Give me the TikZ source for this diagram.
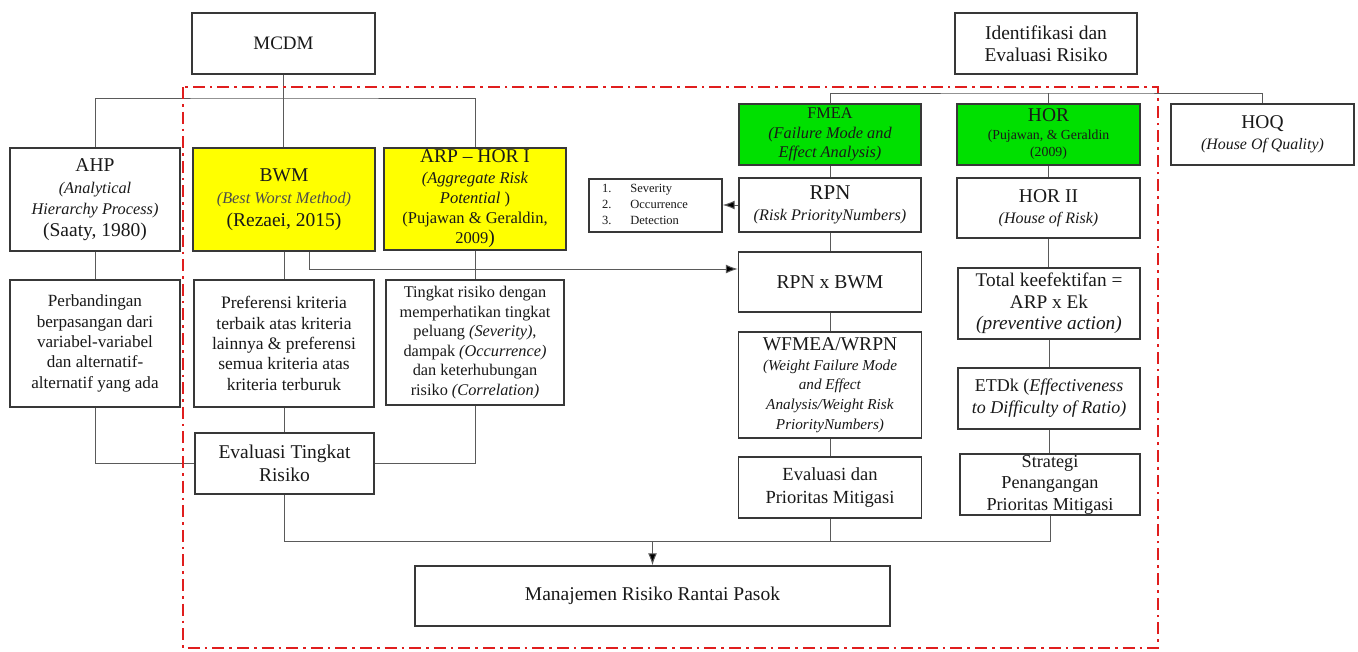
\documentclass[tikz,border=0pt]{standalone}
\usepackage{fontspec}
\setmainfont{Liberation Serif}
\usetikzlibrary{arrows.meta}
\definecolor{boxline}{HTML}{383838}
\definecolor{conn}{HTML}{5A5A5A}
\definecolor{ylw}{HTML}{FFFF00}
\definecolor{grn}{HTML}{00E000}
\definecolor{framered}{HTML}{E01E1E}
\newcommand{\fs}[2]{\fontsize{#1}{#2}\selectfont}
\newcommand{\tbig}[1]{{\fontsize{19.5}{20}\selectfont #1}}
\newcommand{\tbigg}[1]{{\fontsize{21}{20}\selectfont #1}}
\tikzset{
  bx/.style={draw=boxline, line width=1.4pt, align=center, inner sep=0pt, text=black!90, fill=white},
  ybx/.style={bx, fill=ylw},
  gbx/.style={bx, fill=grn},
  ln/.style={draw=conn, line width=1pt},
  arr/.style={ln, -{Latex[length=12pt,width=9pt,fill=black]}},
  redframe/.style={draw=framered, line width=2.6pt, dash pattern=on 12pt off 5pt on 2.6pt off 5pt}
}
\begin{document}
\begin{tikzpicture}[x=1pt,y=-1pt]
\fill[white] (0,0) rectangle (1358,651);
\useasboundingbox (0,0) rectangle (1358,651);

% top boxes
\node[bx, minimum width=183pt, minimum height=61pt, font=\fs{19}{22}] (mcdm) at (283.5,43.5) {MCDM};
\node[bx, minimum width=182pt, minimum height=61pt, font=\fs{19.5}{22}] (ident) at (1046,43.5) {Identifikasi dan\\Evaluasi Risiko};

% left methods
\node[bx, minimum width=170pt, minimum height=103pt, font=\fs{16.3}{21.5}] (ahp) at (95,199.5)
  {\tbig{AHP}\\\textit{(Analytical}\\\textit{Hierarchy Process)}\\\tbig{(Saaty, 1980)}};
\node[ybx, minimum width=182pt, minimum height=103pt, font=\fs{16.3}{22.5}] (bwm) at (284,199.5)
  {\tbig{BWM}\\\textcolor{black!70}{\textit{(Best Worst Method)}}\\\tbig{(Rezaei, 2015)}};
\node[ybx, minimum width=182pt, minimum height=102pt, font=\fs{16.5}{20.3}] (arp) at (475,199)
  {\tbig{ARP -- HOR I}\\\textit{(Aggregate Risk}\\\textit{Potential} )\\(Pujawan \& Geraldin,\\2009\tbig{)}};

\node[bx, minimum width=170pt, minimum height=127pt, font=\fs{17.1}{20.3}] (perb) at (95,343.5)
  {Perbandingan\\berpasangan dari\\variabel-variabel\\dan alternatif-\\alternatif yang ada};
\node[bx, minimum width=180pt, minimum height=127pt, font=\fs{17.5}{20.3}] (pref) at (284,343.5)
  {Preferensi kriteria\\terbaik atas kriteria\\lainnya \& preferensi\\semua kriteria atas\\kriteria terburuk};
\node[bx, minimum width=178pt, minimum height=125pt, font=\fs{16.3}{19.5}] (ting) at (475,342.5)
  {Tingkat risiko dengan\\memperhatikan tingkat\\peluang \textit{(Severity)},\\dampak \textit{(Occurrence)}\\dan keterhubungan\\risiko \textit{(Correlation)}};
\node[bx, minimum width=179pt, minimum height=61pt, font=\fs{19.5}{23}] (evalt) at (284.5,463.5)
  {Evaluasi Tingkat\\Risiko};

% FMEA column
\node[gbx, minimum width=182pt, minimum height=61pt, font=\fs{16.3}{19.5}] (fmea) at (830,134.5)
  {FMEA\\\textit{(Failure Mode and}\\\textit{Effect Analysis)}};
\node[bx, text width=107pt, inner xsep=13pt, minimum height=53pt, align=left, font=\fs{12.5}{16}] (lst) at (655.5,205.5)
  {\begin{tabular}{@{}l@{\hspace{19pt}}l@{}}1.&Severity\\2.&Occurrence\\3.&Detection\end{tabular}};
\node[bx, minimum width=182pt, minimum height=54pt, font=\fs{16.2}{21}] (rpn) at (830,205)
  {\tbigg{RPN}\\\textit{(Risk PriorityNumbers)}};
\node[bx, minimum width=183pt, minimum height=60pt, font=\fs{19.6}{22}] (rpnbwm) at (830,282) {RPN x BWM};
\node[bx, minimum width=183pt, minimum height=106pt, font=\fs{15.2}{19.7}] (wfmea) at (830,385)
  {\tbig{WFMEA/WRPN}\\\textit{(Weight Failure Mode}\\\textit{and Effect}\\\textit{Analysis/Weight Risk}\\\textit{PriorityNumbers)}};
\node[bx, minimum width=183pt, minimum height=61pt, font=\fs{18.5}{22.5}] (evalp) at (830,487.5)
  {Evaluasi dan\\Prioritas Mitigasi};

% HOR column
\node[gbx, minimum width=183pt, minimum height=61pt, font=\fs{13.8}{17.5}] (hor) at (1048.5,134.5)
  {\tbig{HOR}\\(Pujawan, \& Geraldin\\(2009)};
\node[bx, minimum width=183pt, minimum height=61pt, font=\fs{15.9}{21}] (hoq) at (1262.5,134.5)
  {\tbig{HOQ}\\\textit{(House Of Quality)}};
\node[bx, minimum width=183pt, minimum height=60pt, font=\fs{16}{21}] (horii) at (1048.5,208)
  {\tbig{HOR II}\\\textit{(House of Risk)}};
\node[bx, minimum width=182pt, minimum height=71pt, font=\fs{19.3}{21.5}] (total) at (1049,303.5)
  {Total keefektifan =\\ARP x Ek\\\textit{(preventive action)}};
\node[bx, minimum width=182pt, minimum height=61pt, font=\fs{18}{22}] (etdk) at (1049,398.5)
  {ETDk (\textit{Effectiveness}\\\textit{to Difficulty of Ratio)}};
\node[bx, minimum width=180pt, minimum height=61pt, font=\fs{18.2}{21.5}] (strat) at (1050,484.5)
  {Strategi\\Penangangan\\Prioritas Mitigasi};

% bottom
\node[bx, minimum width=475pt, minimum height=60pt, font=\fs{19.5}{22}] (manaj) at (652.5,596)
  {Manajemen Risiko Rantai Pasok};

% connectors
\coordinate (mbar) at (283.5,98);
\coordinate (ibar) at (1048.5,93);
\coordinate (bbar) at (652.5,541);

\draw[ln] (mcdm.south) -- (mcdm.south |- bwm.north);
\draw[ln] (ahp.north) |- (mbar) -| (arp.north);
\draw[ln] (ahp.south) -- (ahp.south |- perb.north);
\draw[ln] (bwm.south) -- (bwm.south |- pref.north);
\draw[ln] (arp.south) -- (arp.south |- ting.north);
\draw[ln] (perb.south) |- (evalt.west);
\draw[ln] (ting.south) |- (evalt.east);
\draw[ln] (pref.south) -- (pref.south |- evalt.north);
\draw[arr] ([xshift=25pt]bwm.south) |- ([yshift=13pt]rpnbwm.west);

\draw[ln] (fmea.north) |- (ibar) -| (hoq.north);
\draw[ln] (hor.north) -- (hor.north |- ibar);
\draw[ln] (fmea.south) -- (fmea.south |- rpn.north);
\draw[arr] (rpn.west) -- (rpn.west -| lst.east);
\draw[ln] (rpn.south) -- (rpn.south |- rpnbwm.north);
\draw[ln] (rpnbwm.south) -- (rpnbwm.south |- wfmea.north);
\draw[ln] (wfmea.south) -- (wfmea.south |- evalp.north);

\draw[ln] (hor.south) -- (hor.south |- horii.north);
\draw[ln] (horii.south) -- (horii.south |- total.north);
\draw[ln] (total.south) -- (total.south |- etdk.north);
\draw[ln] (etdk.south) -- (etdk.south |- strat.north);

\draw[ln] (evalt.south) |- (strat.south |- bbar) -- (strat.south);
\draw[ln] (evalp.south) -- (evalp.south |- bbar);
\draw[arr] (bbar) -- (manaj.north);

% dash-dot frame
\draw[redframe] (183,87) rectangle (1158,648);
\end{tikzpicture}
\end{document}
